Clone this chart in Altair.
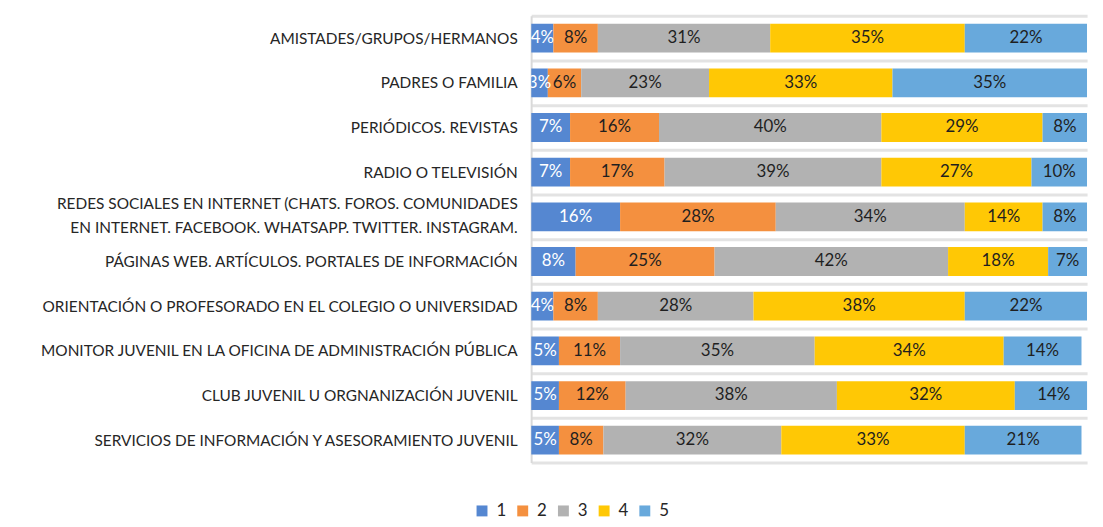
import altair as alt
import pandas as pd

categories = [
    "AMISTADES/GRUPOS/HERMANOS",
    "PADRES O FAMILIA",
    "PERIÓDICOS. REVISTAS",
    "RADIO O TELEVISIÓN",
    "REDES SOCIALES EN INTERNET (CHATS. FOROS. COMUNIDADES|EN INTERNET. FACEBOOK. WHATSAPP. TWITTER. INSTAGRAM.",
    "PÁGINAS WEB. ARTÍCULOS. PORTALES DE INFORMACIÓN",
    "ORIENTACIÓN O PROFESORADO EN EL COLEGIO O UNIVERSIDAD",
    "MONITOR JUVENIL EN LA OFICINA DE ADMINISTRACIÓN PÚBLICA",
    "CLUB JUVENIL U ORGNANIZACIÓN JUVENIL",
    "SERVICIOS DE INFORMACIÓN Y ASESORAMIENTO JUVENIL",
]
series_names = ["1", "2", "3", "4", "5"]
s1 = [4, 3, 7, 7, 16, 8, 4, 5, 5, 5]
s2 = [8, 6, 16, 17, 28, 25, 8, 11, 12, 8]
s3 = [31, 23, 40, 39, 34, 42, 28, 35, 38, 32]
s4 = [35, 33, 29, 27, 14, 18, 38, 34, 32, 33]
s5 = [22, 35, 8, 10, 8, 7, 22, 14, 14, 21]
colors = ["#5587D1", "#F4903F", "#B2B2B2", "#FFC805", "#68A9DC"]

series = [s1, s2, s3, s4, s5]
rows = []
for i, cat in enumerate(categories):
    start = 0
    for j, name in enumerate(series_names):
        v = series[j][i]
        rows.append({
            "cat": cat, "series": name, "value": v,
            "start": start, "end": start + v, "mid": start + v / 2,
            "label": f"{v}%", "light": j == 0,
        })
        start += v
df = pd.DataFrame(rows)

FONT = "Lato"

y_enc = alt.Y(
    "cat:N", sort=categories, title=None,
    scale=alt.Scale(paddingInner=0, paddingOuter=0),
    axis=alt.Axis(
        labelExpr="split(datum.label, '|')",
        labelFont=FONT, labelFontSize=15.5, labelColor="#262626",
        labelPadding=14, labelLimit=600, labelLineHeight=24,
        labelOffset={"condition": {"test": "isString(datum.value) && indexof(datum.value, '|') >= 0", "value": -13}, "value": 0},
        ticks=False, domain=True, domainColor="#d9d9d9", domainWidth=2,
        grid=True, gridColor="#e3e3e3", gridWidth=3, tickBand="extent",
    ),
)
x_scale = alt.Scale(domain=[0, 100], nice=False, zero=True)

bars = alt.Chart(df).mark_bar(size=29, clip=True).encode(
    y=y_enc,
    x=alt.X("start:Q", scale=x_scale, axis=None),
    x2="end:Q",
    color=alt.Color(
        "series:N", scale=alt.Scale(domain=series_names, range=colors),
        legend=alt.Legend(
            title=None, orient="none", direction="horizontal",
            legendX=-58, legendY=490, symbolType="square", symbolSize=121,
            symbolStrokeWidth=0, labelFont=FONT, labelFontSize=17,
            labelColor="#262626", labelOffset=6, columnPadding=8,
        ),
    ),
)

texts = alt.Chart(df).mark_text(font=FONT, fontSize=17, clip=True).encode(
    y=alt.Y("cat:N", sort=categories),
    x=alt.X("mid:Q", scale=x_scale),
    text="label:N",
    color=alt.condition("datum.light", alt.value("#ffffff"), alt.value("#1f1f1f")),
)

chart = alt.layer(bars, texts).properties(
    width=560, height=450,
    autosize=alt.AutoSizeParams(type="none"),
    padding={"left": 527, "top": 6, "right": 8, "bottom": 55},
    background="white",
).configure_view(stroke=None)

chart.save("out.html", embed_options={"renderer": "svg", "actions": False})
